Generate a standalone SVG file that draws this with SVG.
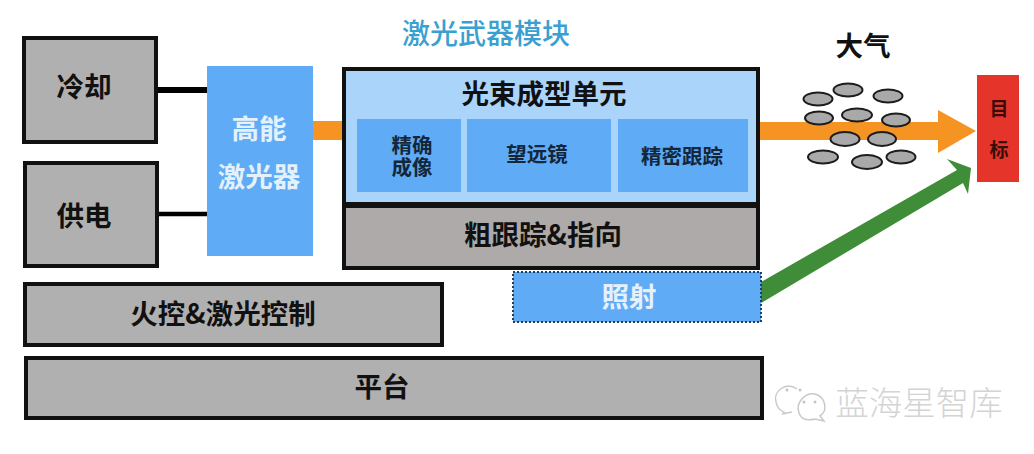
<svg xmlns="http://www.w3.org/2000/svg" width="1034" height="454" viewBox="0 0 1034 454">
<style>
text{font-family:"Noto Sans CJK SC","Noto Sans",sans-serif;text-anchor:middle;font-weight:700;fill:#111;font-size:27.500px}
.g{fill:#b0b0b0;stroke:#111;stroke-width:4}
.b{fill:#5fabf5}
.e{fill:#a9a9a9;stroke:#1c1c1c;stroke-width:2}
text.w{fill:#e4f1fb}
text.s{font-size:20.500px;fill:#14263a}
text.t{font-size:19px;fill:#3a0d0a}
.m{fill:none;stroke:#c9c9c9;stroke-width:1.500}
.d{fill:#c4c4c4}
</style>
<rect width="1034" height="454" fill="#fff"/>
<g id="connectors">
<path d="M158 90H208" stroke="#000" stroke-width="6" fill="none"/>
<path d="M158 214H208" stroke="#000" stroke-width="4.500" fill="none"/>
<rect x="312" y="121" width="32" height="19" fill="#f59423"/>
<path d="M760 122H938V110L976 131L938 153V140H760Z" fill="#f59423"/>
<path d="M761 282L957 170L947 159L971 168L968 194L963 183L761 303Z" fill="#3f8c39"/>
</g>
<g id="n-title"><text x="486" y="44" style="fill:#3a9fd1;font-weight:500;font-size:28px">激光武器模块</text></g>
<g id="n-cool"><rect class="g" x="24" y="38" width="132" height="104"/><text x="84" y="97">冷却</text></g>
<g id="n-power"><rect class="g" x="25" y="163" width="132" height="103"/><text x="84" y="226">供电</text></g>
<g id="n-laser"><rect class="b" x="207" y="66" width="106" height="190"/><text class="w" x="259" y="139">高能</text><text class="w" x="259" y="187">激光器</text></g>
<g id="n-beam"><rect x="344" y="69" width="414" height="135" fill="#abd4fb" stroke="#111" stroke-width="4"/><text x="544" y="104">光束成型单元</text></g>
<g id="n-imaging"><rect class="b" x="357" y="119" width="104" height="73"/><text class="s" x="412"><tspan x="412" y="153">精确</tspan><tspan x="412" y="175">成像</tspan></text></g>
<g id="n-scope"><rect class="b" x="467" y="119" width="144" height="73"/><text class="s" x="537" y="162">望远镜</text></g>
<g id="n-track"><rect class="b" x="618" y="119" width="130" height="73"/><text class="s" x="682" y="164">精密跟踪</text></g>
<g id="n-coarse"><rect class="g" x="344" y="206" width="414" height="62" style="fill:#aeaaaa"/><text x="543" y="245">粗跟踪&amp;指向</text></g>
<g id="n-illum"><rect x="513" y="272" width="248" height="50" fill="#5fabf5" stroke="#1f3f60" stroke-width="2" stroke-dasharray="2 2"/><text class="w" x="629" y="307">照射</text></g>
<g id="n-fire"><rect class="g" x="25" y="284" width="417" height="61"/><text x="223" y="324">火控&amp;激光控制</text></g>
<g id="n-platform"><rect class="g" x="26" y="358" width="736" height="60"/><text x="382" y="397">平台</text></g>
<g id="n-atmos"><text x="863" y="56">大气</text>
<ellipse class="e" cx="818" cy="99" rx="14.500" ry="6.500"/><ellipse class="e" cx="848" cy="90" rx="14.500" ry="6.500"/><ellipse class="e" cx="888" cy="96" rx="14.500" ry="6.500"/>
<ellipse class="e" cx="819" cy="118" rx="14" ry="6.500"/><ellipse class="e" cx="857" cy="115" rx="15" ry="6.500"/><ellipse class="e" cx="896" cy="120" rx="14" ry="6.500"/>
<ellipse class="e" cx="845" cy="139" rx="14.500" ry="7"/><ellipse class="e" cx="882" cy="139" rx="14" ry="7"/>
<ellipse class="e" cx="823" cy="157" rx="15" ry="6.500"/><ellipse class="e" cx="867" cy="162" rx="15" ry="7"/><ellipse class="e" cx="901" cy="157" rx="14.500" ry="6.500"/></g>
<g id="n-target"><rect x="977" y="75" width="42" height="107" fill="#e5352b"/><text class="t" x="999" y="116">目</text><text class="t" x="999" y="157">标</text></g>
<g id="watermark">
<path class="m" d="M797 389C785 381 773 392 776 402C777 408 781 411 785 413L782 414L792 412"/>
<path class="m" d="M799 413C795 402 806 392 815 394C826 397 828 411 820 416L824 421L815 419C807 421 801 419 799 413Z"/>
<circle class="d" cx="787" cy="390" r="1.500"/><circle class="d" cx="800" cy="390" r="1.500"/><circle class="d" cx="804" cy="402" r="1.500"/><circle class="d" cx="815" cy="402" r="1.500"/>
<text x="919" y="415" style="fill:#d4d4d4;font-weight:300;font-size:33.500px">蓝海星智库</text></g>
</svg>
